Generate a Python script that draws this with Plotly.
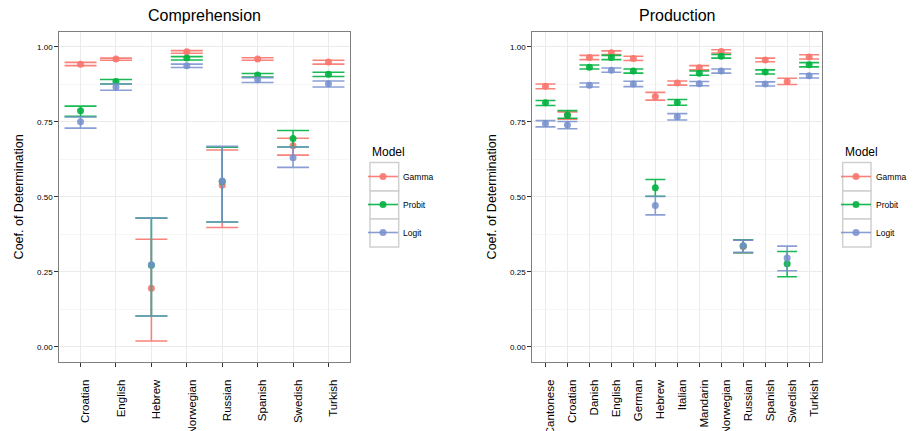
import plotly.graph_objects as go

# Comprehension panel
comp_langs = ["Croatian", "English", "Hebrew", "Norwegian", "Russian", "Spanish", "Swedish", "Turkish"]
comp_gamma = [0.942, 0.959, 0.196, 0.983, 0.539, 0.959, 0.670, 0.949]
comp_gamma_lo = [0.937, 0.955, 0.020, 0.978, 0.398, 0.955, 0.639, 0.942]
comp_gamma_hi = [0.948, 0.962, 0.359, 0.987, 0.656, 0.963, 0.695, 0.955]
comp_probit = [0.787, 0.884, 0.272, 0.962, 0.551, 0.906, 0.694, 0.908]
comp_probit_lo = [0.768, 0.876, 0.103, 0.956, 0.416, 0.899, 0.666, 0.901]
comp_probit_hi = [0.802, 0.891, 0.429, 0.967, 0.665, 0.911, 0.721, 0.915]
comp_logit = [0.750, 0.866, 0.274, 0.937, 0.553, 0.890, 0.630, 0.877]
comp_logit_lo = [0.729, 0.855, 0.103, 0.931, 0.416, 0.881, 0.598, 0.866]
comp_logit_hi = [0.766, 0.876, 0.429, 0.942, 0.668, 0.897, 0.666, 0.886]

# Production panel
prod_langs = ["Cantonese", "Croatian", "Danish", "English", "German", "Hebrew", "Italian",
              "Mandarin", "Norwegian", "Russian", "Spanish", "Swedish", "Turkish"]
prod_gamma = [0.868, 0.771, 0.964, 0.980, 0.961, 0.834, 0.879, 0.930, 0.984, 0.335, 0.956, 0.884, 0.966]
prod_gamma_lo = [0.860, 0.759, 0.957, 0.974, 0.954, 0.822, 0.872, 0.923, 0.979, 0.314, 0.950, 0.874, 0.959]
prod_gamma_hi = [0.876, 0.783, 0.971, 0.986, 0.968, 0.848, 0.886, 0.937, 0.990, 0.356, 0.962, 0.895, 0.973]
prod_probit = [0.813, 0.773, 0.932, 0.964, 0.919, 0.530, 0.814, 0.912, 0.968, 0.336, 0.916, 0.277, 0.940]
prod_probit_lo = [0.804, 0.762, 0.926, 0.957, 0.912, 0.502, 0.805, 0.905, 0.962, 0.314, 0.909, 0.234, 0.933]
prod_probit_hi = [0.821, 0.787, 0.939, 0.971, 0.926, 0.558, 0.824, 0.919, 0.974, 0.357, 0.923, 0.318, 0.947]
prod_logit = [0.744, 0.739, 0.872, 0.922, 0.876, 0.471, 0.767, 0.877, 0.919, 0.337, 0.876, 0.296, 0.903]
prod_logit_lo = [0.733, 0.727, 0.866, 0.915, 0.867, 0.440, 0.756, 0.870, 0.912, 0.315, 0.869, 0.254, 0.896]
prod_logit_hi = [0.754, 0.751, 0.879, 0.929, 0.885, 0.501, 0.777, 0.884, 0.926, 0.356, 0.883, 0.336, 0.910]

models = ["Gamma", "Probit", "Logit"]
colors = {"Gamma": "rgba(248,118,109,0.9)", "Probit": "rgba(0,178,64,0.9)", "Logit": "rgba(118,142,204,0.85)"}
FONT = "Liberation Sans, Arial, sans-serif"

panels = [
    ("x", "y", comp_langs, 16, {
        "Gamma": (comp_gamma, comp_gamma_lo, comp_gamma_hi),
        "Probit": (comp_probit, comp_probit_lo, comp_probit_hi),
        "Logit": (comp_logit, comp_logit_lo, comp_logit_hi)}, "legend"),
    ("x2", "y2", prod_langs, 10, {
        "Gamma": (prod_gamma, prod_gamma_lo, prod_gamma_hi),
        "Probit": (prod_probit, prod_probit_lo, prod_probit_hi),
        "Logit": (prod_logit, prod_logit_lo, prod_logit_hi)}, "legend2"),
]

fig = go.Figure()
for xa, ya, langs, capw, series, leg in panels:
    for m in models:
        v, lo, hi = series[m]
        fig.add_trace(go.Scatter(
            x=langs, y=v, xaxis=xa, yaxis=ya, mode="markers", name=m,
            marker=dict(size=7, color=colors[m]), showlegend=False,
            error_y=dict(type="data", symmetric=False,
                         array=[h - a for h, a in zip(hi, v)],
                         arrayminus=[a - l for a, l in zip(v, lo)],
                         color=colors[m], thickness=1.6, width=capw),
        ))
    # legend-only entries (line + point like the ggplot key)
    for m in models:
        fig.add_trace(go.Scatter(
            x=[None], y=[None], xaxis=xa, yaxis=ya, mode="lines+markers", name=m,
            marker=dict(size=7, color=colors[m]), line=dict(color=colors[m], width=1.6),
            legend=leg, legendgroup=leg + m, showlegend=True))

W, H = 916, 431
OFF = 8  # the page body adds an 8px margin, so positions are given in screen px and shifted back


def px(x):
    return (x - OFF) / W


def py(y):
    return 1 - (y - OFF) / H


ax_common = dict(showline=True, linecolor="#7F7F7F", linewidth=1, mirror=True,
                 ticks="outside", ticklen=4, tickcolor="#333333", tickwidth=1,
                 showgrid=True, gridcolor="#EBEBEB", zeroline=False, automargin=False)
ystyle = dict(range=[-0.05, 1.05], tickvals=[0, 0.25, 0.5, 0.75, 1.0], tickformat=".2f",
              tickfont=dict(size=8, color="#000000", family=FONT),
              minor=dict(tick0=0, dtick=0.125, showgrid=True, gridcolor="#F6F6F6", ticks=""),
              title=dict(text="Coef. of Determination", font=dict(size=12.5, family=FONT, color="#000"),
                         standoff=10),
              **ax_common)
xstyle = dict(tickangle=-90, tickfont=dict(size=11.5, color="#000000", family=FONT),
              ticklabelshift=5, ticklabelstandoff=8,
              type="category", **ax_common)

leg_common = dict(yanchor="top", xanchor="left", y=py(162), font=dict(size=8.5),
                  traceorder="grouped", tracegroupgap=9, itemwidth=30,
                  bgcolor="rgba(0,0,0,0)")
fig.update_layout(
    width=W, height=H, margin=dict(l=0, r=0, t=0, b=0, autoexpand=False),
    paper_bgcolor="white", plot_bgcolor="white",
    font=dict(family=FONT, color="#000"),
    xaxis=dict(domain=[px(59.3), px(349.7)], range=[-0.6, len(comp_langs) - 0.4], anchor="y", **xstyle),
    yaxis=dict(domain=[py(362), py(31.7)], anchor="x", **ystyle),
    xaxis2=dict(domain=[px(532.3), px(822.3)], range=[-0.6, len(prod_langs) - 0.4], anchor="y2", **xstyle),
    yaxis2=dict(domain=[py(362), py(31.7)], anchor="x2", **ystyle),
    legend=dict(x=px(363), **leg_common),
    legend2=dict(x=px(836), **leg_common),
    annotations=[
        dict(text="Comprehension", x=px(204.5), y=py(15), xref="paper", yref="paper",
             xanchor="center", yanchor="middle",
             showarrow=False, font=dict(size=16, family=FONT)),
        dict(text="Production", x=px(677.3), y=py(15), xref="paper", yref="paper",
             xanchor="center", yanchor="middle",
             showarrow=False, font=dict(size=16, family=FONT)),
        dict(text="Model", x=px(370), y=py(152), xref="paper", yref="paper",
             xanchor="left", yanchor="middle", showarrow=False, font=dict(size=12, family=FONT)),
        dict(text="Model", x=px(842.7), y=py(152), xref="paper", yref="paper",
             xanchor="left", yanchor="middle", showarrow=False, font=dict(size=12, family=FONT)),
    ],
)

# grey key boxes behind legend entries (ggplot style)
shapes = []
rows = [162.5, 191, 219, 247]
for x0, x1 in [(370, 398.7), (842.7, 871)]:
    for r0, r1 in zip(rows[:-1], rows[1:]):
        shapes.append(dict(type="rect", xref="paper", yref="paper", layer="below",
                           x0=px(x0), x1=px(x1), y0=py(r1), y1=py(r0),
                           line=dict(color="#D0D0D0", width=1.5), fillcolor="white"))
fig.update_layout(shapes=shapes)

fig.write_html("out.html")
